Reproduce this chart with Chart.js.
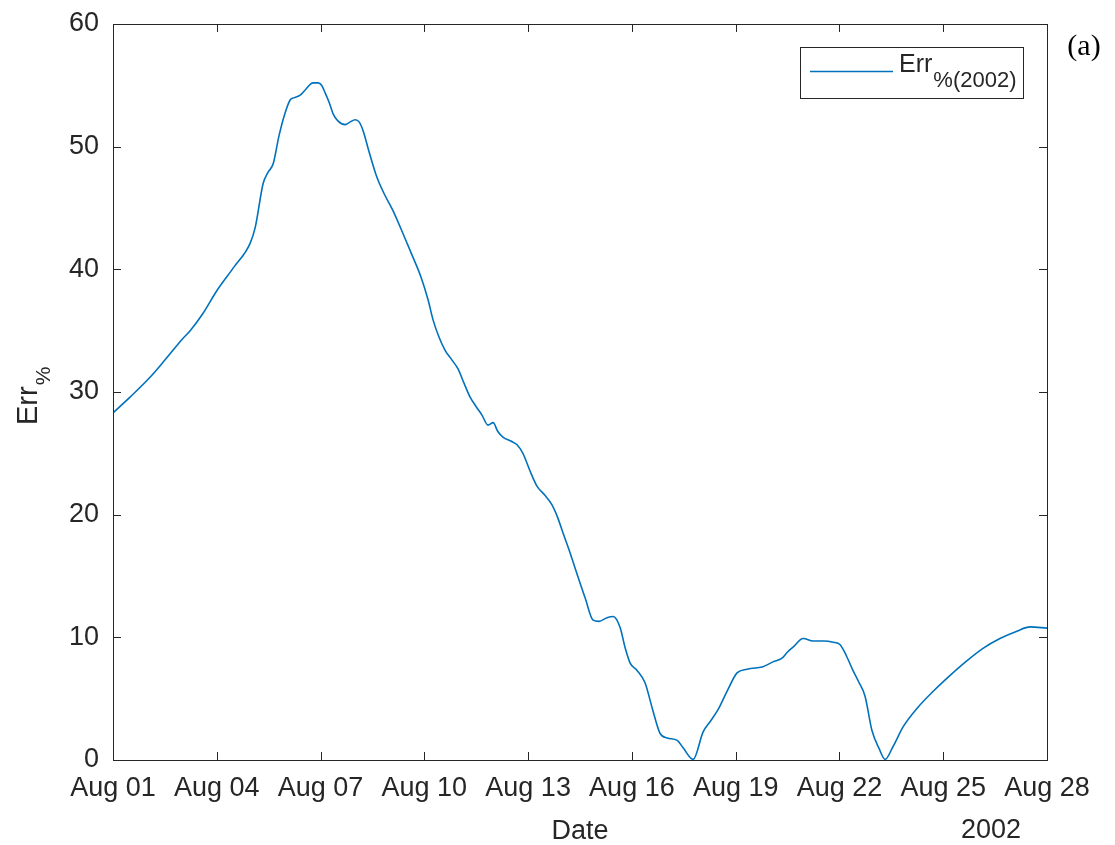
<!DOCTYPE html>
<html>
<head>
<meta charset="utf-8">
<script src="https://cdn.jsdelivr.net/npm/chart.js@4/dist/chart.umd.min.js"></script>
<style>
  body { margin: 0; background: #fff; }
  #wrap { width: 1115px; height: 845px; position: relative; }
</style>
</head>
<body>
<div id="wrap"><canvas id="myChart"></canvas></div>
<script>
// day of August 2002 (fractional) and relative error in %
const days = [
    1.00, 1.50, 2.07, 2.50, 3.00, 3.23, 3.60, 4.01, 4.50, 4.96,
    5.11, 5.34, 5.48, 5.63, 5.80, 5.97, 6.12, 6.25, 6.41, 6.55,
    6.78, 6.93, 7.03, 7.13, 7.25, 7.36, 7.50, 7.71, 7.85, 8.00,
    8.12, 8.23, 8.40, 8.63, 8.85, 9.09, 9.40, 9.67, 9.90, 10.11,
    10.25, 10.42, 10.60, 10.80, 10.97, 11.15, 11.32, 11.50, 11.67, 11.84,
    11.99, 12.12, 12.28, 12.50, 12.68, 12.85, 13.05, 13.26, 13.48, 13.69,
    13.85, 14.01, 14.20, 14.41, 14.65, 14.88, 15.05, 15.28, 15.46, 15.66,
    15.80, 15.95, 16.15, 16.38, 16.60, 16.81, 17.02, 17.31, 17.48, 17.77,
    18.06, 18.28, 18.49, 18.75, 19.04, 19.33, 19.55, 19.79, 20.08, 20.34,
    20.50, 20.66, 20.95, 21.24, 21.55, 21.82, 22.02, 22.20, 22.39, 22.55,
    22.74, 22.94, 23.15, 23.32, 23.55, 23.84, 24.24, 24.71, 25.20, 25.69,
    26.15, 26.64, 27.13, 27.51, 28.00
];
const errValues = [
    28.3, 29.6, 31.2, 32.6, 34.3, 35.0, 36.4, 38.3, 40.2, 42.1,
    43.4, 47.0, 47.9, 48.6, 50.9, 52.7, 53.8, 54.0, 54.2, 54.6,
    55.2, 55.2, 55.0, 54.4, 53.6, 52.7, 52.1, 51.8, 52.0, 52.2,
    52.0, 51.3, 49.6, 47.5, 46.1, 44.8, 42.8, 41.0, 39.4, 37.5,
    35.9, 34.5, 33.4, 32.6, 31.9, 30.7, 29.6, 28.8, 28.1, 27.3,
    27.5, 26.8, 26.3, 26.0, 25.7, 25.0, 23.6, 22.3, 21.6, 20.8,
    19.8, 18.5, 17.0, 15.2, 13.2, 11.4, 11.3, 11.6, 11.7, 10.8,
    9.2, 7.9, 7.3, 6.3, 4.1, 2.2, 1.8, 1.6, 1.0, 0.05,
    2.3, 3.2, 4.1, 5.6, 7.1, 7.4, 7.5, 7.6, 8.0, 8.3,
    8.8, 9.2, 9.9, 9.7, 9.7, 9.6, 9.4, 8.5, 7.3, 6.4,
    5.2, 2.4, 0.9, 0.05, 1.1, 2.7, 4.2, 5.6, 6.9, 8.1,
    9.1, 9.9, 10.5, 10.85, 10.75
];
const tickLabels = ["Aug 01", "Aug 04", "Aug 07", "Aug 10", "Aug 13",
    "Aug 16", "Aug 19", "Aug 22", "Aug 25", "Aug 28"];
const yearLabel = "2002";

const axisColor = "#262626";
const lineColor = "#0072BD";
const sans = "'Liberation Sans', Arial, sans-serif";

// text with a lowered, smaller suffix (tex style subscript)
function drawSub(ctx, x, y, main, sub, size, subSize, drop) {
    ctx.font = size + "px " + sans;
    ctx.fillText(main, x, y);
    const w = ctx.measureText(main).width;
    ctx.font = subSize + "px " + sans;
    ctx.fillText(sub, x + w + 1, y + drop);
    return w + 1 + ctx.measureText(sub).width;
}

// box, inward ticks, legend and extra labels
const decor = {
    id: "decor",
    afterDraw(chart) {
        const { ctx, chartArea: a, scales } = chart;
        ctx.save();
        ctx.strokeStyle = axisColor;
        ctx.lineWidth = 1;
        ctx.strokeRect(a.left + 0.5, a.top + 0.5, a.right - a.left, a.bottom - a.top);

        const tl = 8;
        ctx.beginPath();
        scales.x.ticks.forEach((t) => {
            const px = Math.round(scales.x.getPixelForValue(t.value)) + 0.5;
            ctx.moveTo(px, a.bottom); ctx.lineTo(px, a.bottom - tl);
            ctx.moveTo(px, a.top); ctx.lineTo(px, a.top + tl);
        });
        scales.y.ticks.forEach((t) => {
            const py = Math.round(scales.y.getPixelForValue(t.value)) + 0.5;
            ctx.moveTo(a.left, py); ctx.lineTo(a.left + tl, py);
            ctx.moveTo(a.right, py); ctx.lineTo(a.right - tl, py);
        });
        ctx.stroke();

        // legend
        const lx = 800, ly = 47, lw = 223, lh = 51;
        ctx.fillStyle = "#fff";
        ctx.fillRect(lx, ly, lw, lh);
        ctx.strokeRect(lx + 0.5, ly + 0.5, lw, lh);
        ctx.strokeStyle = lineColor;
        ctx.lineWidth = 1.5;
        ctx.beginPath();
        ctx.moveTo(810, 71.5); ctx.lineTo(893, 71.5);
        ctx.stroke();
        ctx.fillStyle = axisColor;
        ctx.textBaseline = "alphabetic";
        ctx.textAlign = "left";
        drawSub(ctx, 899, 72, "Err", "%(2002)", 25, 22, 15);

        // y axis title, rotated
        ctx.save();
        ctx.translate(37, 425);
        ctx.rotate(-Math.PI / 2);
        drawSub(ctx, 0, 0, "Err", "%", 29, 21, 13);
        ctx.restore();

        // year under the last tick
        ctx.font = "27px " + sans;
        ctx.textAlign = "center";
        ctx.textBaseline = "middle";
        ctx.fillText(yearLabel, 991, 831);

        // panel tag
        ctx.font = "30px 'Liberation Serif', 'Times New Roman', serif";
        ctx.fillStyle = "#000";
        ctx.fillText("(a)", 1084, 47);
        ctx.restore();
    },
};

const data = {
    datasets: [
        {
            label: "Err%(2002)",
            data: days.map((d, i) => ({ x: d, y: errValues[i] })),
            borderColor: lineColor,
            borderWidth: 1.6,
            pointRadius: 0,
            tension: 0.3,
            cubicInterpolationMode: "monotone",
            fill: false,
        },
    ],
};

const config = {
    type: "line",
    data: data,
    options: {
        responsive: true,
        maintainAspectRatio: false,
        animation: false,
        layout: { padding: { top: 24, right: 68, left: 0, bottom: 0 } },
        plugins: {
            legend: { display: false },
            tooltip: { enabled: false },
        },
        scales: {
            x: {
                type: "linear",
                min: 1,
                max: 28,
                afterFit: (s) => { s.height = 85; },
                ticks: {
                    stepSize: 3,
                    color: axisColor,
                    font: { size: 27, family: sans },
                    padding: 12,
                    maxRotation: 0,
                    callback: (v) => tickLabels[Math.round((v - 1) / 3)],
                },
                grid: { display: false, drawTicks: false },
                border: { display: false },
                title: {
                    display: true,
                    text: "Date",
                    color: axisColor,
                    font: { size: 27, family: sans },
                    padding: { top: 0, bottom: -3 },
                },
            },
            y: {
                min: 0,
                max: 60,
                afterFit: (s) => {
                    s.width = 113;
                    s.paddingTop = 0;
                    s.paddingBottom = 0;
                },
                ticks: {
                    stepSize: 10,
                    color: axisColor,
                    font: { size: 27, family: sans },
                    padding: 14,
                },
                grid: { display: false, drawTicks: false },
                border: { display: false },
            },
        },
    },
    plugins: [decor],
};

const myChart = new Chart(document.getElementById("myChart"), config);
</script>
</body>
</html>
